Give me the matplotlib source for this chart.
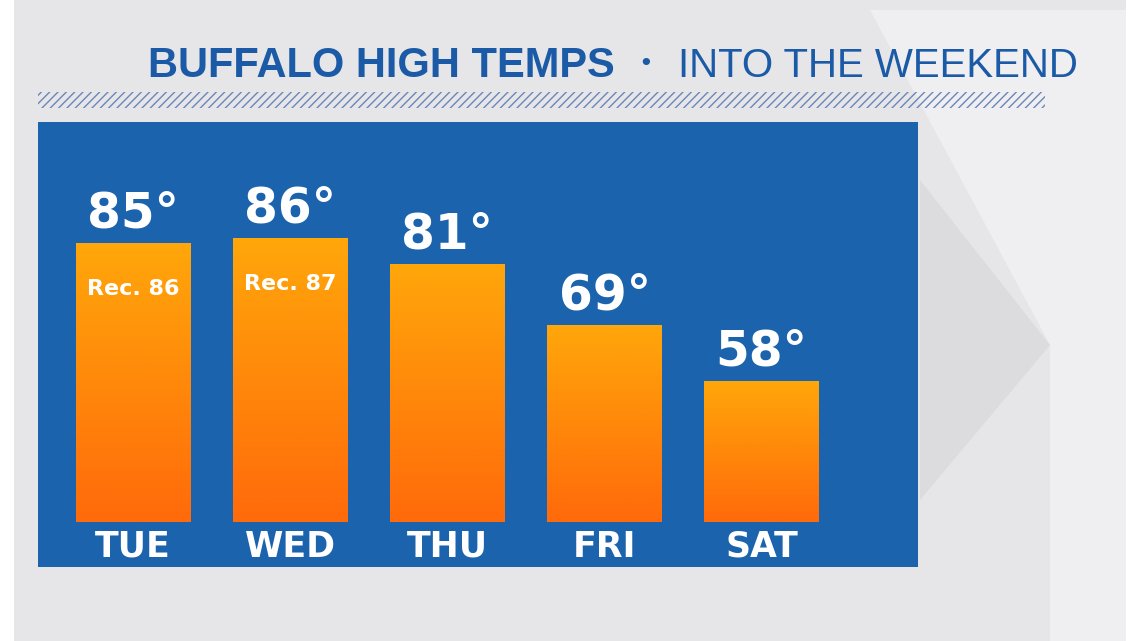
import numpy as np
import matplotlib.pyplot as plt
from matplotlib.patches import Rectangle, Polygon
from matplotlib.colors import LinearSegmentedColormap

days = ["TUE", "WED", "THU", "FRI", "SAT"]
highs = [85, 86, 81, 69, 58]
value_labels = ["85°", "86°", "81°", "69°", "58°"]
record_labels = ["Rec. 86", "Rec. 87", "", "", ""]

W, H = 1140, 641
fig = plt.figure(figsize=(W / 100, H / 100), dpi=100)
fig.patch.set_facecolor("#e6e6e8")

# faint background diamonds
bg = fig.add_axes([0, 0, 1, 1])
bg.set_xlim(0, W)
bg.set_ylim(H, 0)
bg.axis("off")
bg.add_patch(Polygon([[870, 10], [1140, 10], [1140, 641], [1050, 641], [1050, 345]],
                     closed=True, fc="#efeff1", ec="none"))
bg.add_patch(Polygon([[920, 180], [1050, 345], [920, 500]], closed=True, fc="#dcdcdf", ec="none"))
bg.add_patch(Rectangle((0, 0), 14, H, fc="white", ec="none"))
bg.add_patch(Rectangle((1126, 0), 14, H, fc="white", ec="none"))

# title
bg.text(615, 66, "BUFFALO HIGH TEMPS", ha="right", va="center", fontsize=30,
        fontweight="bold", color="#1b5aa6", family="Liberation Sans")
bg.text(646, 64, "•", ha="center", va="center", fontsize=18, color="#1b5aa6")
bg.text(1078, 66, "INTO THE WEEKEND", ha="right", va="center", fontsize=29,
        color="#1b5aa6", family="Liberation Sans")
bg.add_patch(Rectangle((38, 92), 1007, 16, fc="none", ec="#6a86b8", lw=0, hatch="////"))

# blue panel with bars
ax = fig.add_axes([38 / W, 1 - 567 / H, 880 / W, 445 / H])
ax.set_facecolor("#1c63ad")
for s in ax.spines.values():
    s.set_visible(False)
ax.set_xticks([])
ax.set_yticks([])

base = 30.4
cmap = LinearSegmentedColormap.from_list("orng", ["#ff6a0a", "#ffa70a"])
grad = np.linspace(0, 1, 256).reshape(-1, 1)
x = np.arange(len(days))
bars = ax.bar(x, np.array(highs) - base, bottom=base, width=0.73, color="none")
for b, v, lab, rec, d in zip(bars, highs, value_labels, record_labels, days):
    x0, w = b.get_x(), b.get_width()
    im = ax.imshow(grad, cmap=cmap, extent=[x0, x0 + w, base, v], origin="lower",
                   aspect="auto", zorder=2)
    im.set_clip_path(b)
    cx = x0 + w / 2
    ax.text(cx, v + 1.0, lab, ha="center", va="bottom", fontsize=35, fontweight="bold",
            color="white", family="DejaVu Sans")
    if rec:
        ax.text(cx, v - 9, rec, ha="center", va="center", fontsize=16, fontweight="bold",
                color="white", family="DejaVu Sans", zorder=3)
    ax.text(cx, 25.6, d, ha="center", va="center", fontsize=25, fontweight="bold",
            color="white", family="DejaVu Sans")
ax.set_xlim(-0.605, 4.995)
ax.set_ylim(21.6, 108.7)

fig.savefig("out.png", dpi=100, facecolor=fig.get_facecolor())
